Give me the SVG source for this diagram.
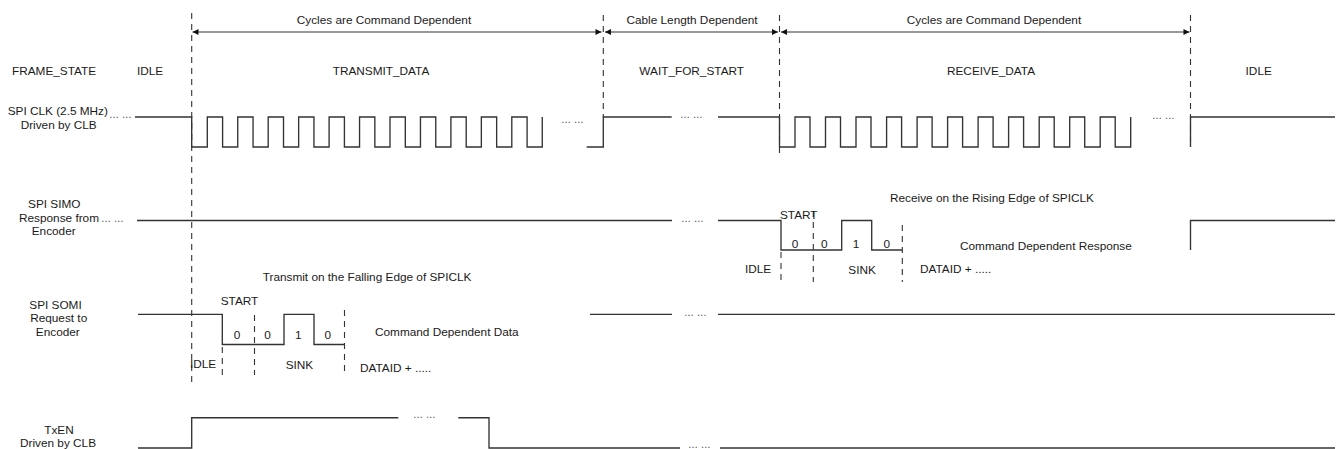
<svg xmlns="http://www.w3.org/2000/svg" width="1340" height="449" viewBox="0 0 1340 449">
<style>
.t{font-family:"Liberation Sans",Arial,sans-serif;font-size:11.8px;fill:#1a1a1a}
.c{text-anchor:middle}
.d{font-family:"Liberation Sans",Arial,sans-serif;font-size:10px;fill:#444}
.sig{fill:none;stroke:#333;stroke-width:1.35}
.dash{fill:none;stroke:#333;stroke-width:1.1;stroke-dasharray:6 5}
.arr{fill:none;stroke:#333;stroke-width:1.1}
</style>
<defs>
<marker id="ah" viewBox="0 0 10 10" refX="10" refY="5" markerWidth="8" markerHeight="6" markerUnits="userSpaceOnUse" orient="auto-start-reverse">
<path d="M0,0 L10,5 L0,10 z" fill="#111"/>
</marker>
</defs>
<rect width="1340" height="449" fill="#fff"/>

<g id="connectors">
<line class="dash" x1="191.7" y1="13" x2="191.7" y2="382"/>
<line class="dash" x1="603.3" y1="15" x2="603.3" y2="117"/>
<line class="dash" x1="779.5" y1="15" x2="779.5" y2="153"/>
<line class="dash" x1="1190.5" y1="15" x2="1190.5" y2="147"/>
<line class="arr" x1="192.5" y1="32" x2="601.5" y2="32" marker-start="url(#ah)" marker-end="url(#ah)"/>
<line class="arr" x1="605" y1="32" x2="778" y2="32" marker-start="url(#ah)" marker-end="url(#ah)"/>
<line class="arr" x1="781" y1="32" x2="1189.5" y2="32" marker-start="url(#ah)" marker-end="url(#ah)"/>
</g>

<g id="header">
<text class="t c" x="384" y="24">Cycles are Command Dependent</text>
<text class="t c" x="692" y="24">Cable Length Dependent</text>
<text class="t c" x="994" y="24">Cycles are Command Dependent</text>
</g>

<g id="frame-state">
<text class="t" x="12" y="75">FRAME_STATE</text>
<text class="t" x="137" y="75">IDLE</text>
<text class="t c" x="381" y="75">TRANSMIT_DATA</text>
<text class="t c" x="691.7" y="75">WAIT_FOR_START</text>
<text class="t c" x="991" y="75">RECEIVE_DATA</text>
<text class="t c" x="1258.7" y="75">IDLE</text>
</g>

<g id="spi-clk">
<text class="t c" x="57.8" y="114.5">SPI CLK (2.5 MHz)</text>
<text class="t c" x="58.7" y="129">Driven by CLB</text>
<text class="d" x="109" y="118">… …</text>
<path class="sig" d="M135,117 H191.7 V147 H207.3 V117 H222.6 V147 H237.75 V117 H253.05 V147 H268.2 V117 H283.5 V147 H298.65 V117 H313.95 V147 H329.1 V117 H344.4 V147 H359.55 V117 H374.85 V147 H390 V117 H405.3 V147 H420.45 V117 H435.75 V147 H450.9 V117 H466.2 V147 H481.35 V117 H496.65 V147 H511.8 V117 H527.1 V147 H542.25 V117"/>
<text class="d" x="561" y="122.5">… …</text>
<path class="sig" d="M586.7,147 H603.3 V117 H671.7"/>
<text class="d" x="680" y="118">… …</text>
<path class="sig" d="M718,117 H779.5 V147 H795 V117 H810 V147 H825.5 V117 H840.5 V147 H856 V117 H871 V147 H886.6 V117 H901.6 V147 H917.1 V117 H932.1 V147 H947.6 V117 H962.6 V147 H978.1 V117 H993.1 V147 H1008.6 V117 H1023.6 V147 H1039.2 V117 H1054.2 V147 H1069.7 V117 H1084.7 V147 H1100.2 V117 H1115.2 V147 H1130.7 V117"/>
<text class="d" x="1152" y="119">… …</text>
<path class="sig" d="M1190.5,147 V117 H1335"/>
</g>

<g id="spi-simo">
<text class="t c" x="54.3" y="208">SPI SIMO</text>
<text class="t c" x="59" y="221.5">Response from</text>
<text class="t c" x="53.7" y="235">Encoder</text>
<text class="d" x="101" y="222">… …</text>
<path class="sig" d="M137,220.5 H672"/>
<text class="d" x="681" y="222">… …</text>
<path class="sig" d="M718,220.5 H781 V250 H841.7 V220.5 H871.7 V250 H902.3"/>
<line class="dash" x1="781" y1="252" x2="781" y2="282"/>
<line class="dash" x1="813.3" y1="211" x2="813.3" y2="282"/>
<line class="dash" x1="902.3" y1="225" x2="902.3" y2="282"/>
<text class="t" x="890" y="202">Receive on the Rising Edge of SPICLK</text>
<text class="t" x="780" y="218.5">START</text>
<text class="t c" x="795" y="247.5">0</text>
<text class="t c" x="824.3" y="247.5">0</text>
<text class="t c" x="856" y="247.5">1</text>
<text class="t c" x="886.7" y="247.5">0</text>
<text class="t" x="960" y="250">Command Dependent Response</text>
<text class="t" x="745" y="272.5">IDLE</text>
<text class="t" x="848.3" y="273.5">SINK</text>
<text class="t" x="920" y="273">DATAID + .....</text>
<path class="sig" d="M1190.5,250 V220.5 H1335"/>
</g>

<g id="spi-somi">
<text class="t c" x="55.5" y="309">SPI SOMI</text>
<text class="t c" x="58.7" y="322">Request to</text>
<text class="t c" x="57.8" y="336">Encoder</text>
<text class="t" x="262.7" y="280.5">Transmit on the Falling Edge of SPICLK</text>
<path class="sig" d="M138,314.3 H222.3 V344.5 H284 V314.3 H314 V344.5 H344.5"/>
<line class="dash" x1="222.3" y1="347" x2="222.3" y2="375"/>
<line class="dash" x1="254.5" y1="315" x2="254.5" y2="375"/>
<line class="dash" x1="344.5" y1="310" x2="344.5" y2="375"/>
<text class="t" x="220.7" y="304.5">START</text>
<text class="t c" x="237" y="339">0</text>
<text class="t c" x="267.5" y="339">0</text>
<text class="t c" x="298.3" y="339">1</text>
<text class="t c" x="327.8" y="339">0</text>
<text class="t" x="375" y="335.5">Command Dependent Data</text>
<text class="t" x="190" y="368">IDLE</text>
<text class="t" x="285.7" y="368.5">SINK</text>
<text class="t" x="360" y="372">DATAID + .....</text>
<path class="sig" d="M590,314.3 H672"/>
<text class="d" x="684" y="316">… …</text>
<path class="sig" d="M718,314.3 H1335"/>
</g>

<g id="txen">
<text class="t c" x="59" y="434">TxEN</text>
<text class="t c" x="58" y="446.5">Driven by CLB</text>
<path class="sig" d="M138,448 H191.7 V417.7 H398.3"/>
<text class="d" x="413" y="418">… …</text>
<path class="sig" d="M458.3,417.7 H489 V448 H680"/>
<text class="d" x="688" y="448">… …</text>
<path class="sig" d="M720,448 H1335"/>
</g>
</svg>
